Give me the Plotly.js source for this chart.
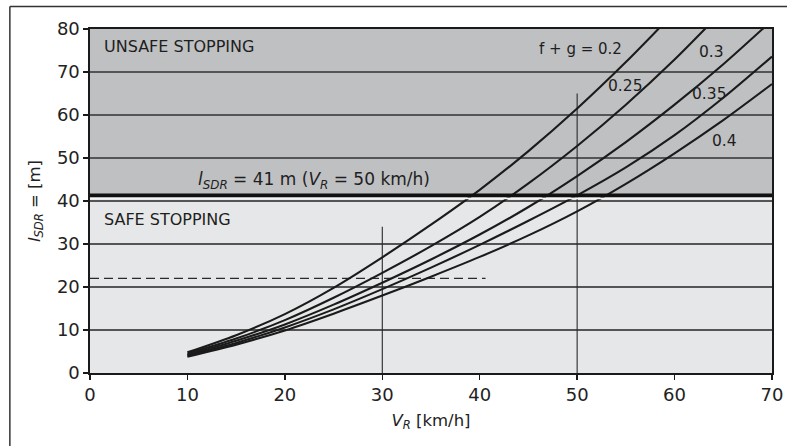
<!DOCTYPE html>
<html>
<head>
<meta charset="utf-8">
<script src="https://cdn.plot.ly/plotly-3.0.1.min.js"></script>
<style>html,body{margin:0;padding:0;background:#fff;}#chart{width:787px;height:446px;}</style>
</head>
<body>
<div id="chart"></div>
<script>
// Speed V_R [km/h]
const speeds = [10, 15, 20, 25, 30, 35, 40, 45, 50, 55, 60, 65, 70];
// Stopping distance l_SDR [m] per f+g value
const l_fg020 = [4.8, 8.8, 13.7, 19.8, 26.9, 34.5, 42.6, 51.6, 61.5, 72.3, 83.9];
const l_fg025 = [4.5, 8.0, 12.3, 17.5, 23.3, 29.5, 36.3, 44.1, 52.8, 62.4, 72.9, 84.4];
const l_fg030 = [4.2, 7.5, 11.3, 15.9, 21.0, 26.4, 32.2, 38.6, 45.8, 53.7, 62.4, 71.8, 82.0];
const l_fg035 = [4.0, 7.0, 10.6, 14.8, 19.5, 24.5, 29.8, 35.4, 41.3, 47.8, 55.3, 64.0, 73.6];
const l_fg040 = [3.8, 6.6, 9.9, 13.8, 18.0, 22.4, 27.0, 32.0, 37.6, 44.0, 51.1, 58.8, 67.2];
const curveLabels = ["f + g = 0.2", "0.25", "0.3", "0.35", "0.4"];

// Threshold and reference lines
const safeLimit = 41.3;          // l_SDR = 41 m
const limitSpan = [0, 70];
const dashedLevel = 22;
const dashedSpan = [0, 40.6];
const refSpeeds = [30, 50];
const refTops = [34, 65];

const xTicks = [0, 10, 20, 30, 40, 50, 60, 70];
const yTicks = [0, 10, 20, 30, 40, 50, 60, 70, 80];

const FONT = "DejaVu Sans, sans-serif";
const curveColor = "#1b1b1b";

const series = [l_fg020, l_fg025, l_fg030, l_fg035, l_fg040];
const traces = [];

// reference vertical lines
refSpeeds.forEach((v, i) => {
  traces.push({x: [v, v], y: [0, refTops[i]], mode: "lines",
    line: {color: "#2a2a2a", width: 1.1}, hoverinfo: "skip", showlegend: false});
});
// dashed level
traces.push({x: dashedSpan, y: [dashedLevel, dashedLevel], mode: "lines",
  line: {color: "#2a2a2a", width: 1.4, dash: "9px,5px"}, hoverinfo: "skip", showlegend: false});

series.forEach((arr, i) => {
  traces.push({x: speeds.slice(0, arr.length), y: arr, mode: "lines", name: curveLabels[i],
    line: {color: curveColor, width: 2.1, shape: "spline", smoothing: 0.8}, showlegend: false});
});
// thin white edge under the limit line
traces.push({x: limitSpan, y: [safeLimit - 0.7, safeLimit - 0.7], mode: "lines",
  line: {color: "#f6f6f6", width: 1.6}, hoverinfo: "skip", showlegend: false});
// thick limit line
traces.push({x: limitSpan, y: [safeLimit, safeLimit], mode: "lines",
  line: {color: "#111", width: 3.6}, hoverinfo: "skip", showlegend: false});

const annFont = {family: FONT, size: 16, color: "#1e1e1e"};
const annotations = [
  {x: 1.2, y: 75.9, xanchor: "left", yanchor: "middle", text: "UNSAFE STOPPING", showarrow: false, font: annFont},
  {x: 1.2, y: 35.8, xanchor: "left", yanchor: "middle", text: "SAFE STOPPING", showarrow: false, font: annFont},
  {x: 10.9, y: 44.7, xanchor: "left", yanchor: "middle",
   text: "<i>l</i><sub><i>SDR</i></sub> = 41 m (<i>V</i><sub><i>R</i></sub> = 50 km/h)", showarrow: false,
   font: {family: FONT, size: 17, color: "#1e1e1e"}},
  {x: 54.8, y: 75.4, xanchor: "right", yanchor: "middle", text: curveLabels[0], showarrow: false, font: {family: FONT, size: 15, color: "#1e1e1e"}},
  {x: 55.0, y: 66.7, xanchor: "center", yanchor: "middle", text: curveLabels[1], showarrow: false, font: {family: FONT, size: 15.5, color: "#1e1e1e"}},
  {x: 63.8, y: 74.7, xanchor: "center", yanchor: "middle", text: curveLabels[2], showarrow: false, font: {family: FONT, size: 15.5, color: "#1e1e1e"}},
  {x: 63.6, y: 64.8, xanchor: "center", yanchor: "middle", text: curveLabels[3], showarrow: false, font: {family: FONT, size: 15.5, color: "#1e1e1e"}},
  {x: 65.1, y: 53.9, xanchor: "center", yanchor: "middle", text: curveLabels[4], showarrow: false, font: {family: FONT, size: 15.5, color: "#1e1e1e"}}
];

const shapes = [
  {type: "rect", xref: "x", yref: "y", x0: 0, x1: 70, y0: 0, y1: safeLimit, fillcolor: "#e6e7e8", line: {width: 0}, layer: "below"},
  {type: "rect", xref: "x", yref: "y", x0: 0, x1: 70, y0: safeLimit, y1: 80, fillcolor: "#bfc0c2", line: {width: 0}, layer: "below"},
  // outer frame (top and left)
  {type: "line", xref: "paper", yref: "paper", x0: -0.1175, x1: 1.05, y0: 1.0655, y1: 1.0655, line: {color: "#333", width: 1.5}},
  {type: "line", xref: "paper", yref: "paper", x0: -0.1175, x1: -0.1175, y0: 1.0655, y1: -0.25, line: {color: "#333", width: 1.5}}
];

const layout = {
  width: 787, height: 446,
  margin: {l: 90, r: 15, t: 29, b: 73},
  paper_bgcolor: "#ffffff",
  plot_bgcolor: "#ffffff",
  font: {family: FONT, color: "#1e1e1e"},
  xaxis: {
    range: [0, 70], tickvals: xTicks, ticktext: xTicks.map(String),
    showgrid: false, zeroline: false,
    showline: true, linecolor: "#1a1a1a", linewidth: 1.6, mirror: true,
    ticks: "outside", ticklen: 5, tickwidth: 1.4, tickcolor: "#1a1a1a",
    tickfont: {family: FONT, size: 18, color: "#222"},
    title: {text: "<i>V</i><sub><i>R</i></sub> [km/h]", font: {family: FONT, size: 16.5, color: "#222"}, standoff: 10}
  },
  yaxis: {
    range: [0, 80], tickvals: yTicks, ticktext: yTicks.map(String),
    showgrid: true, gridcolor: "#555", gridwidth: 1.3, zeroline: false,
    showline: true, linecolor: "#1a1a1a", linewidth: 1.6, mirror: true,
    ticks: "outside", ticklen: 5, tickwidth: 1.4, tickcolor: "#1a1a1a",
    tickfont: {family: FONT, size: 18, color: "#222"},
    title: {text: "<i>l</i><sub><i>SDR</i></sub> = [m]", font: {family: FONT, size: 16.5, color: "#222"}, standoff: 12}
  },
  shapes: shapes,
  annotations: annotations,
  showlegend: false
};

Plotly.newPlot("chart", traces, layout, {staticPlot: true, displayModeBar: false});
</script>
</body>
</html>
